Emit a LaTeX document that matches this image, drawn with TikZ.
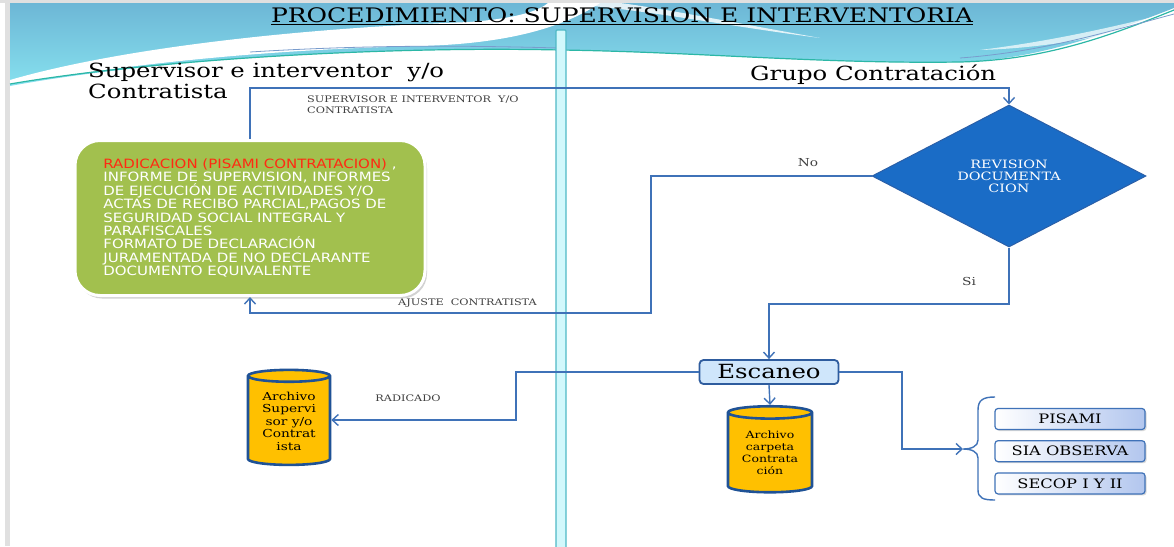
\documentclass[tikz,border=0pt]{standalone}
\usepackage{fontspec}
\setmainfont{DejaVu Serif}[FakeStretch=1.25]
\newfontfamily\boxfont{DejaVu Sans}[FakeStretch=1.17]
\usepackage{tikz}
\usetikzlibrary{arrows.meta,positioning,shapes.geometric,shadows}
\definecolor{lineblue}{HTML}{3F72B8}
\definecolor{boxgreen}{HTML}{A2C04E}
\definecolor{radred}{HTML}{FF2A12}
\definecolor{diamblue}{HTML}{1A6CC6}
\definecolor{diamedge}{HTML}{2A5FA8}
\definecolor{cylgold}{HTML}{FFC000}
\definecolor{cyledge}{HTML}{1F5296}
\definecolor{scanfill}{HTML}{CFE6FB}
\definecolor{scanedge}{HTML}{2E5C9E}
\definecolor{bandcyan}{HTML}{86E0EE}
\definecolor{bandblue}{HTML}{6DB7D6}
\definecolor{barcyan}{HTML}{D2F8FC}
\definecolor{barteal}{HTML}{4FB9C6}
\definecolor{swoosh}{HTML}{2CB7A6}
\definecolor{labelgray}{HTML}{404040}
\definecolor{sysblue}{HTML}{B2C6EE}

\tikzset{
  flow/.style={draw=lineblue,line width=1.4pt},
  flowarrow/.style={flow,-{Straight Barb[length=6pt,width=11pt]}},
  linklabel/.style={font=\fontsize{9}{11}\selectfont,text=labelgray,align=left,inner sep=0pt},
  archive/.style={shape=cylinder,shape border rotate=90,aspect=0.22,draw=cyledge,line width=2.6pt,
    fill=cylgold,align=center,font=\fontsize{11}{12.5}\selectfont,inner sep=0pt},
  sysbox/.style={draw=lineblue,line width=1.2pt,rounded corners=3pt,left color=white,right color=sysblue,
    minimum width=150pt,minimum height=21pt,font=\fontsize{13}{14}\selectfont,
    drop shadow={shadow xshift=1.5pt,shadow yshift=-1.5pt,opacity=0.3}},
}

\begin{document}
\begin{tikzpicture}[x=1pt,y=-1pt]
  \useasboundingbox (0,0) rectangle (1174,546);
  \fill[white] (0,0) rectangle (1174,546);
  % marco de la diapositiva
  \fill[black!12] (0,0) rectangle (1174,3);
  \fill[black!12] (5,0) rectangle (10,546);
  % banda superior
  \shade[top color=bandblue,bottom color=bandcyan] (10,3) -- (1174,3) -- (1174,8)
    .. controls (1080,45) and (1020,60) .. (960,62)
    .. controls (820,64) and (700,52) .. (560,50)
    .. controls (380,46) and (150,60) .. (10,86) -- cycle;
  \fill[white] (10,80) .. controls (120,48) and (300,28) .. (470,22)
    .. controls (520,18) and (540,10) .. (548,3) -- (600,3)
    .. controls (560,30) and (500,44) .. (420,46)
    .. controls (250,50) and (120,66) .. (10,84) -- cycle;
  \fill[white,opacity=0.8] (560,3) .. controls (650,10) and (720,25) .. (820,38)
    .. controls (720,20) and (660,8) .. (620,3) -- cycle;
  \fill[white,opacity=0.7] (980,50) .. controls (1060,40) and (1120,25) .. (1174,12) -- (1174,20)
    .. controls (1110,35) and (1050,48) .. (980,50) -- cycle;
  \draw[swoosh,line width=1.2pt] (10,84) .. controls (150,60) and (380,46) .. (560,50)
    .. controls (700,52) and (820,64) .. (960,62) .. controls (1040,60) and (1100,40) .. (1174,10);
  \draw[lineblue!70,line width=0.8pt] (250,52) .. controls (380,44) and (480,46) .. (560,48);
  \draw[lineblue!70,line width=0.8pt] (960,58) .. controls (1040,52) and (1100,34) .. (1174,14);
  % separador de carriles
  \draw[barteal,line width=1.2pt,fill=barcyan,rounded corners=1pt] (556,30) rectangle (566,550);

  % titulos
  \node[font=\fontsize{20}{22}\selectfont] (title) at (622,16)
    {\underline{PROCEDIMIENTO: SUPERVISION E INTERVENTORIA}};
  \node[anchor=north west,align=left,font=\fontsize{19.5}{21}\selectfont,inner sep=0pt] (laneleft) at (88,63)
    {Supervisor e interventor~~y/o\\Contratista};
  \node[anchor=north west,font=\fontsize{19.5}{21}\selectfont,inner sep=0pt] (laneright) at (750,65)
    {Grupo Contratación};

  % nodos del flujo
  \node[draw=white,line width=3pt,fill=boxgreen,rounded corners=25pt,minimum width=350pt,minimum height=155pt,
    align=left,text=white,font=\boxfont\fontsize{12.8}{13.4}\selectfont,
    drop shadow={shadow xshift=2pt,shadow yshift=-3pt,opacity=0.35}] (radicacion) at (250,218)
    {\textcolor{radred}{RADICACION (PISAMI CONTRATACION)} ,\\
     INFORME DE SUPERVISION, INFORMES\\
     DE EJECUCIÓN DE ACTIVIDADES Y/O\\
     ACTAS DE RECIBO PARCIAL,PAGOS DE\\
     SEGURIDAD SOCIAL INTEGRAL Y\\
     PARAFISCALES\\
     FORMATO DE DECLARACIÓN\\
     JURAMENTADA DE NO DECLARANTE\\
     DOCUMENTO EQUIVALENTE};
  \node[diamond,draw=diamedge,line width=1pt,fill=diamblue,aspect=1.93,minimum width=274pt,minimum height=142pt,
    inner sep=0pt,text=white,align=center,font=\fontsize{11.5}{12}\selectfont] (revision) at (1009,176)
    {REVISION\\DOCUMENTA\\CION};
  \node[draw=scanedge,line width=1.8pt,fill=scanfill,rounded corners=4pt,minimum width=139pt,minimum height=24pt,
    inner sep=0pt,font=\fontsize{19.5}{20}\selectfont] (escaneo) at (769,372) {Escaneo};
  \node[archive,minimum width=82pt,minimum height=95pt] (archsup) at (289,421)
    {Archivo\\Supervi\\sor y/o\\Contrat\\ista};
  \node[archive,minimum width=84pt,minimum height=86pt,font=\fontsize{10}{12}\selectfont] (archcon) at (770,453)
    {Archivo\\carpeta\\Contrata\\ción};
  \node[sysbox] (pisami) at (1070,419) {PISAMI};
  \node[sysbox,below=10pt of pisami] (sia) {SIA OBSERVA};
  \node[sysbox,below=10pt of sia] (secop) {SECOP I Y II};
  % llave de sistemas
  \coordinate (bracetip) at (963,449);
  \draw[flow] (995,397) .. controls (983,397) and (978,400) .. (978,410) -- (978,440)
    .. controls (978,446) and (972,449) .. (bracetip)
    .. controls (972,449) and (978,452) .. (978,458) -- (978,490)
    .. controls (978,498) and (983,500) .. (995,500);

  % conectores
  \coordinate (topbend) at (1009,88);
  \draw[flowarrow] (radicacion.north) |- (topbend) -- (revision.north);
  \draw[flowarrow] (revision.west) -| (651,313) -| (radicacion.south);
  \draw[flowarrow] (revision.south) |- (escaneo.north |- 0,304) -- (escaneo.north);
  \draw[flowarrow] (escaneo.west) -| (516,420) -- (archsup.east |- 0,420);
  \draw[flowarrow] (escaneo.south) -- (archcon.north);
  \draw[flowarrow] (escaneo.east) -| (902,449) -- (bracetip);

  % etiquetas de conectores
  \node[linklabel,anchor=north west] (lblenvio) at (307,96) {SUPERVISOR E INTERVENTOR~~Y/O\\CONTRATISTA};
  \node[linklabel,font=\fontsize{11}{12}\selectfont] (lblno) at (808,163) {No};
  \node[linklabel,font=\fontsize{11}{12}\selectfont] (lblsi) at (969,281) {Si};
  \node[linklabel,anchor=west] (lblajuste) at (398,303) {AJUSTE~~CONTRATISTA};
  \node[linklabel] (lblradicado) at (408,398) {RADICADO};
\end{tikzpicture}
\end{document}
